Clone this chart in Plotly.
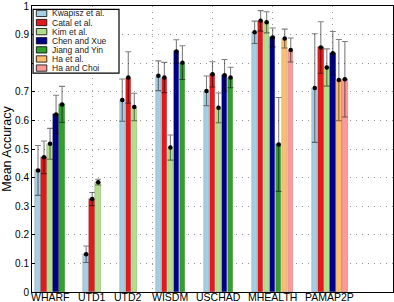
import plotly.graph_objects as go

categories = ["WHARF", "UTD1", "UTD2", "WISDM", "USCHAD", "MHEALTH", "PAMAP2P"]
methods = ["Kwapisz et al.", "Catal et al.", "Kim et al.", "Chen and Xue",
           "Jiang and Yin", "Ha et al.", "Ha and Choi"]
colors = ["#a6cee3", "#e31a1c", "#b2df8a", "#00008b", "#33a02c", "#fdbf6f", "#fb9a99"]

kwapisz = [0.425, 0.132, 0.671, 0.756, 0.703, 0.908, 0.713]
kwapisz_err = [0.087, 0.029, 0.074, 0.052, 0.052, 0.039, 0.190]
catal = [0.471, 0.325, 0.750, 0.750, 0.761, 0.948, 0.855]
catal_err = [0.057, 0.023, 0.090, 0.053, 0.044, 0.036, 0.090]
kim = [0.518, 0.384, 0.647, 0.505, 0.644, 0.943, 0.785]
kim_err = [0.054, 0.010, 0.048, 0.044, 0.052, 0.037, 0.065]
chen = [0.621, None, None, 0.841, 0.758, 0.890, 0.835]
chen_err = [0.067, None, None, 0.041, 0.055, 0.033, 0.076]
jiang = [0.656, None, None, 0.802, 0.750, 0.516, None]
jiang_err = [0.063, None, None, 0.059, 0.036, 0.164, None]
ha = [None, None, None, None, None, 0.886, 0.741]
ha_err = [None, None, None, None, None, 0.033, 0.142]
ha_choi = [None, None, None, None, None, 0.846, 0.744]
ha_choi_err = [None, None, None, None, None, 0.042, 0.132]

values = [kwapisz, catal, kim, chen, jiang, ha, ha_choi]
errors = [kwapisz_err, catal_err, kim_err, chen_err, jiang_err, ha_err, ha_choi_err]

y_ticks = [0, 0.1, 0.2, 0.3, 0.4, 0.5, 0.6, 0.7, 0.8, 0.9, 1]
y_ticktext = ["0", "0.1", "0.2", "0.3", "0.4", "0.5", "0.6", "0.7", "", "0.9", "1"]

# slot layout: bars contiguous inside a group, 3 empty slots between groups
positions = [[None] * len(categories) for _ in methods]
centers = []
start = 1
for c in range(len(categories)):
    present = [m for m in range(len(methods)) if values[m][c] is not None]
    for k, m in enumerate(present):
        positions[m][c] = start + k
    centers.append(start + (len(present) - 1) / 2)
    start += len(present) + 3

FONT = "Liberation Sans, Arial, sans-serif"
fig = go.Figure()
for m, name in enumerate(methods):
    xs = [positions[m][c] for c in range(len(categories)) if values[m][c] is not None]
    ys = [values[m][c] for c in range(len(categories)) if values[m][c] is not None]
    es = [errors[m][c] for c in range(len(categories)) if values[m][c] is not None]
    fig.add_trace(go.Bar(
        x=xs, y=ys, width=0.9, name=name,
        marker=dict(color=colors[m], line=dict(color="rgba(0,0,0,0.25)", width=0.6)),
        error_y=dict(type="data", array=es, visible=True,
                     color="rgba(0,0,0,0.5)", thickness=1.1, width=3),
        showlegend=False,
    ))
    fig.add_trace(go.Scatter(
        x=xs, y=ys, mode="markers",
        marker=dict(color="black", size=4.5), showlegend=False, hoverinfo="skip",
    ))

# manual legend (compact, like the original)
shapes = []
annotations = []
lx0, lx1, ly_top, ly_bot = 0.003, 0.241, 0.988, 0.765
shapes.append(dict(type="rect", xref="paper", yref="paper", x0=lx0, x1=lx1,
                   y0=ly_bot, y1=ly_top, line=dict(color="black", width=1.2),
                   fillcolor="white", layer="above"))
row_h = (ly_top - ly_bot) / len(methods)
for m, name in enumerate(methods):
    yc = ly_top - row_h * (m + 0.5) + 0.002
    shapes.append(dict(type="rect", xref="paper", yref="paper",
                       x0=0.012, x1=0.041, y0=yc - 0.011, y1=yc + 0.011,
                       fillcolor=colors[m], line=dict(color="black", width=0.8),
                       layer="above"))
    annotations.append(dict(xref="paper", yref="paper", x=0.050, y=yc,
                            text=name, showarrow=False, xanchor="left",
                            yanchor="middle",
                            font=dict(family=FONT, size=8.5, color="#222")))

# category labels under the axis
for c, cat in enumerate(categories):
    annotations.append(dict(xref="x", yref="paper", x=centers[c], y=0,
                            text=cat, showarrow=False, xanchor="center",
                            yanchor="top", yshift=2, borderpad=0,
                            font=dict(family=FONT, size=10.5, color="black")))

fig.update_layout(
    width=394, height=302,
    margin=dict(l=32, r=1, t=6, b=10),
    paper_bgcolor="white", plot_bgcolor="white",
    barmode="overlay", bargap=0,
    font=dict(family=FONT, size=10, color="black"),
    shapes=shapes, annotations=annotations,
)
fig.update_xaxes(
    range=[0, 60], tickmode="array", tickvals=centers, ticktext=categories,
    showticklabels=False,
    ticks="", showgrid=False, zeroline=False,
    showline=True, linecolor="black", linewidth=1, mirror=True,
    minor=dict(tickmode="array", tickvals=[10, 20, 30, 40, 50], showgrid=True,
               gridcolor="#999", gridwidth=1, griddash="1px,5px", ticks=""),
)
fig.update_yaxes(
    range=[0, 1], tickmode="array", tickvals=y_ticks, ticktext=y_ticktext,
    ticks="inside", ticklen=3, tickcolor="black",
    showgrid=True, gridcolor="#999", gridwidth=1, griddash="1px,5px",
    zeroline=False, showline=True, linecolor="black", linewidth=1, mirror=True,
    tickfont=dict(size=10),
    title=dict(text="Mean Accuracy", font=dict(size=12.5), standoff=4),
)
fig.write_html("out.html",
               config={"displayModeBar": False},
               post_script="document.body.style.margin='0';"
                           "document.body.style.overflow='hidden';")
